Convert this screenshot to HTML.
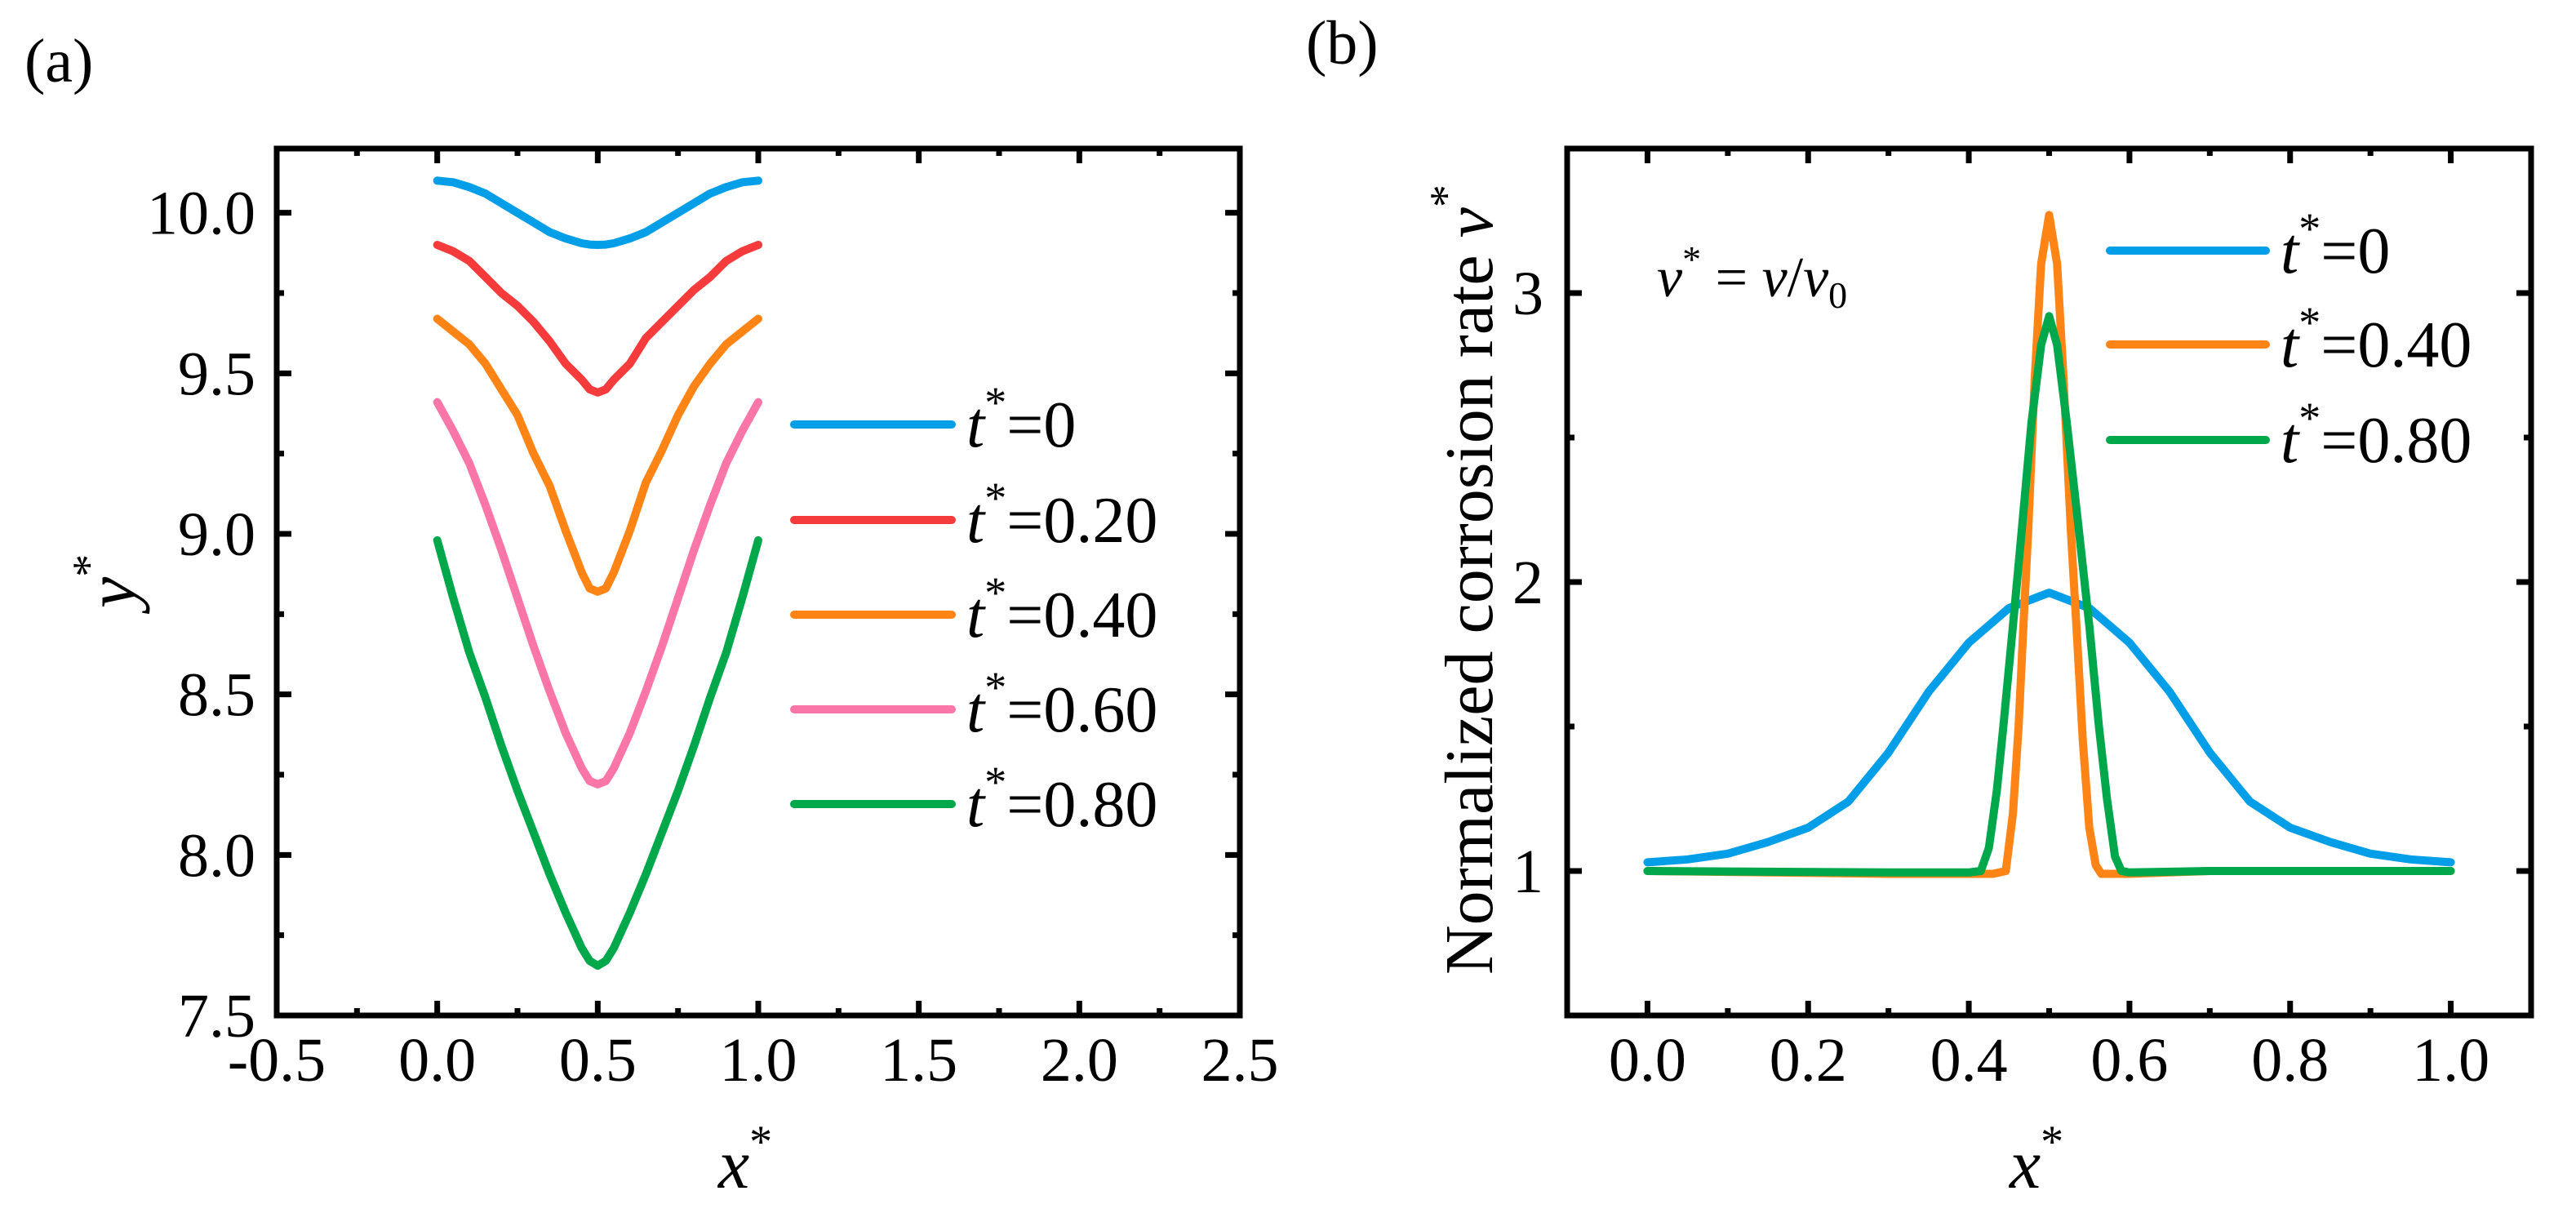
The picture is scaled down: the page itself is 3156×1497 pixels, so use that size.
<!DOCTYPE html>
<html><head><meta charset="utf-8">
<style>
html,body{margin:0;padding:0;background:#fff;}
svg{display:block;font-family:"Liberation Serif",serif;}
</style></head>
<body>
<svg id="fig" width="3156" height="1497" viewBox="0 0 3156 1497" xmlns="http://www.w3.org/2000/svg">
<text x="30" y="100" font-size="76">(a)</text>
<text x="1600" y="78" font-size="76">(b)</text>
<g id="pa"></g>
<g id="pb"></g>
<text x="880" y="1455" font-size="86" font-style="italic">x<tspan dy="-38" font-size="56" font-style="normal">*</tspan></text>
<text x="2462" y="1455" font-size="86" font-style="italic">x<tspan dy="-38" font-size="56" font-style="normal">*</tspan></text>
<text transform="translate(165,745) rotate(-90)" font-size="86" font-style="italic">y<tspan dy="-38" font-size="56" font-style="normal">*</tspan></text>
<text transform="translate(1828,1194) rotate(-90)" font-size="84">Normalized corrosion rate <tspan font-style="italic">v</tspan><tspan dy="-38" font-size="56">*</tspan></text>
<text x="2030" y="363" font-size="70"><tspan font-style="italic">v</tspan><tspan dy="-30" font-size="46">*</tspan><tspan dy="30"> = </tspan><tspan font-style="italic">v</tspan>/<tspan font-style="italic">v</tspan><tspan dy="14" font-size="46">0</tspan></text>
</svg>
<script>
// ---------- Panel (a) data ----------
const aX = [0,0.05,0.1,0.15,0.2,0.25,0.3,0.35,0.4,0.45,0.475,0.5,0.525,0.55,0.6,0.65,0.7,0.75,0.8,0.85,0.9,0.95,1.0];
const aT0  = [10.10,10.095,10.08,10.06,10.03,10.00,9.97,9.94,9.92,9.905,9.901,9.90,9.901,9.905,9.92,9.94,9.97,10.00,10.03,10.06,10.08,10.095,10.10];
const aT20 = [9.90,9.88,9.85,9.80,9.75,9.71,9.66,9.60,9.53,9.48,9.45,9.44,9.45,9.48,9.53,9.61,9.66,9.71,9.76,9.80,9.85,9.88,9.90];
const aT40 = [9.67,9.63,9.59,9.53,9.45,9.37,9.25,9.15,9.01,8.88,8.83,8.82,8.83,8.88,9.01,9.16,9.26,9.37,9.46,9.53,9.59,9.63,9.67];
const aT60 = [9.41,9.32,9.22,9.09,8.95,8.80,8.65,8.51,8.38,8.27,8.23,8.22,8.23,8.27,8.38,8.51,8.65,8.80,8.95,9.09,9.22,9.32,9.41];
const aT80 = [8.98,8.80,8.63,8.49,8.34,8.20,8.07,7.94,7.82,7.71,7.67,7.655,7.67,7.71,7.82,7.94,8.07,8.20,8.34,8.49,8.63,8.80,8.98];
const aLabels = ["0","0.20","0.40","0.60","0.80"];
const aXTicks = ["-0.5","0.0","0.5","1.0","1.5","2.0","2.5"];
const aYTicks = ["7.5","8.0","8.5","9.0","9.5","10.0"];
// ---------- Panel (b) data ----------
const bXT0 = [0,0.05,0.1,0.15,0.2,0.25,0.3,0.35,0.4,0.45,0.5,0.55,0.6,0.65,0.7,0.75,0.8,0.85,0.9,0.95,1.0];
const bT0  = [1.03,1.04,1.06,1.10,1.15,1.24,1.41,1.62,1.79,1.91,1.963,1.91,1.79,1.62,1.41,1.24,1.15,1.10,1.06,1.04,1.03];
const bXT40 = [0,0.3,0.43,0.446,0.455,0.462,0.468,0.474,0.482,0.49,0.5,0.51,0.518,0.527,0.535,0.542,0.55,0.558,0.565,0.6,0.7,1.0];
const bT40  = [1.0,0.99,0.99,1.0,1.2,1.5,1.85,2.18,2.7,3.1,3.27,3.1,2.7,2.18,1.8,1.45,1.15,1.02,0.99,0.99,1.0,1.0];
const bXT80 = [0,0.3,0.4,0.415,0.425,0.435,0.443,0.455,0.466,0.478,0.49,0.5,0.51,0.522,0.537,0.55,0.562,0.572,0.582,0.59,0.6,0.7,1.0];
const bT80  = [1.0,0.995,0.995,1.0,1.08,1.28,1.5,1.85,2.18,2.55,2.82,2.92,2.82,2.55,2.18,1.85,1.5,1.25,1.05,1.0,0.995,1.0,1.0];
const bLabels = ["0","0.40","0.80"];
const bXTicks = ["0.0","0.2","0.4","0.6","0.8","1.0"];
const bYTicks = ["1","2","3"];

const NS = "http://www.w3.org/2000/svg";
function mk(parent, tag, attrs){const e=document.createElementNS(NS,tag);for(const k in attrs)e.setAttribute(k,attrs[k]);parent.appendChild(e);return e;}

function panel(g, L, R, T, B, x0, x1, y0, y1){
  const sx = v => L + (v - x0) / (x1 - x0) * (R - L);
  const sy = v => B - (v - y0) / (y1 - y0) * (B - T);
  return {sx, sy};
}
function frame(g,L,R,T,B){
  const f = mk(g,'rect',{x:L,y:T,width:R-L,height:B-T,fill:'none',stroke:'#000','stroke-width':7});
  
  
}
function tick(g,x1,y1,x2,y2,name){
  const t = mk(g,'line',{x1,y1,x2,y2,stroke:'#000','stroke-width':7});
  
  
}
function curve(g,xs,ys,sx,sy,color,name){
  let d='';
  for(let i=0;i<xs.length;i++){d+=(i?'L':'M')+sx(xs[i]).toFixed(1)+','+sy(ys[i]).toFixed(1);}
  const p = mk(g,'path',{d,fill:'none',stroke:color,'stroke-width':10,'stroke-linejoin':'round','stroke-linecap':'round'});
  
  
}
function legend(g,x1,x2,y,color,label,name){
  const l = mk(g,'line',{x1,y1:y,x2,y2:y,stroke:color,'stroke-width':10,'stroke-linecap':'round'});
  
  
  const t = mk(g,'text',{x:x2+18,y:y+27,'font-size':80});
  
  
  const a = mk(t,'tspan',{'font-style':'italic'}); a.textContent='t';
  const b = mk(t,'tspan',{dy:-36,'font-size':54}); b.textContent='*';
  const c = mk(t,'tspan',{dy:36}); c.textContent='='+label;
}

// ---- Panel A ----
(function(){
  const g=document.getElementById('pa');
  const L=339,R=1519,T=182,B=1244;
  const {sx,sy}=panel(g,L,R,T,B,-0.5,2.5,7.5,10.2);
  const colors=['#039ee8','#f53b3b','#ff8416','#fa76a8','#00a84b'];
  const series=[aT0,aT20,aT40,aT60,aT80];
  series.forEach((s,i)=>curve(g,aX,s,sx,sy,colors[i],'curve-t'+aLabels[i]));
  frame(g,L,R,T,B);
  for(let i=0;i<aXTicks.length;i++){
    const v=parseFloat(aXTicks[i]),x=sx(v);
    tick(g,x,B,x,B-18,'x-major-tick'); tick(g,x,T,x,T+18,'x-top-tick');
    if(i<aXTicks.length-1){const xm=sx(v+0.25);tick(g,xm,B,xm,B-9,'x-minor-tick');tick(g,xm,T,xm,T+9,'x-top-minor-tick');}
    const t=mk(g,'text',{x,y:1324,'font-size':76,'text-anchor':'middle'});t.textContent=aXTicks[i];
    
    
  }
  for(let i=0;i<aYTicks.length;i++){
    const v=parseFloat(aYTicks[i]),y=sy(v);
    tick(g,L,y,L+18,y,'y-major-tick'); tick(g,R,y,R-18,y,'y-right-tick');
    const ym=sy(v+0.25); if(v+0.25<10.2){tick(g,L,ym,L+9,ym,'y-minor-tick');tick(g,R,ym,R-9,ym,'y-right-minor-tick');}
    const t=mk(g,'text',{x:313,y:y+26,'font-size':76,'text-anchor':'end'});t.textContent=aYTicks[i];
    
    
  }
  const ly=[520,637,753,869,985];
  aLabels.forEach((lb,i)=>legend(g,973,1166,ly[i],colors[i],lb,'legend-a-t'+lb));
})();

// ---- Panel B ----
(function(){
  const g=document.getElementById('pb');
  const L=1920,R=3101,T=182,B=1244;
  const {sx,sy}=panel(g,L,R,T,B,-0.1,1.1,0.5,3.5);
  const colors=['#039ee8','#ff8416','#00a84b'];
  curve(g,bXT0,bT0,sx,sy,colors[0],'curve-b-t0');
  curve(g,bXT40,bT40,sx,sy,colors[1],'curve-b-t0.40');
  curve(g,bXT80,bT80,sx,sy,colors[2],'curve-b-t0.80');
  frame(g,L,R,T,B);
  for(let i=0;i<bXTicks.length;i++){
    const v=parseFloat(bXTicks[i]),x=sx(v);
    tick(g,x,B,x,B-18,'x-major-tick'); tick(g,x,T,x,T+18,'x-top-tick');
    if(i<bXTicks.length-1){const xm=sx(v+0.1);tick(g,xm,B,xm,B-9,'x-minor-tick');tick(g,xm,T,xm,T+9,'x-top-minor-tick');}
    const t=mk(g,'text',{x,y:1324,'font-size':76,'text-anchor':'middle'});t.textContent=bXTicks[i];
    
    
  }
  for(let i=0;i<bYTicks.length;i++){
    const v=parseFloat(bYTicks[i]),y=sy(v);
    tick(g,L,y,L+18,y,'y-major-tick'); tick(g,R,y,R-18,y,'y-right-tick');
    const ym=sy(v+0.5);tick(g,L,ym,L+9,ym,'y-minor-tick');tick(g,R,ym,R-9,ym,'y-right-minor-tick');
    const t=mk(g,'text',{x:1891,y:y+26,'font-size':76,'text-anchor':'end'});t.textContent=bYTicks[i];
    
    
  }
  const ly=[307,422,539];
  bLabels.forEach((lb,i)=>legend(g,2585,2776,ly[i],colors[i],lb,'legend-b-t'+lb));
})();
</script>
</body></html>
